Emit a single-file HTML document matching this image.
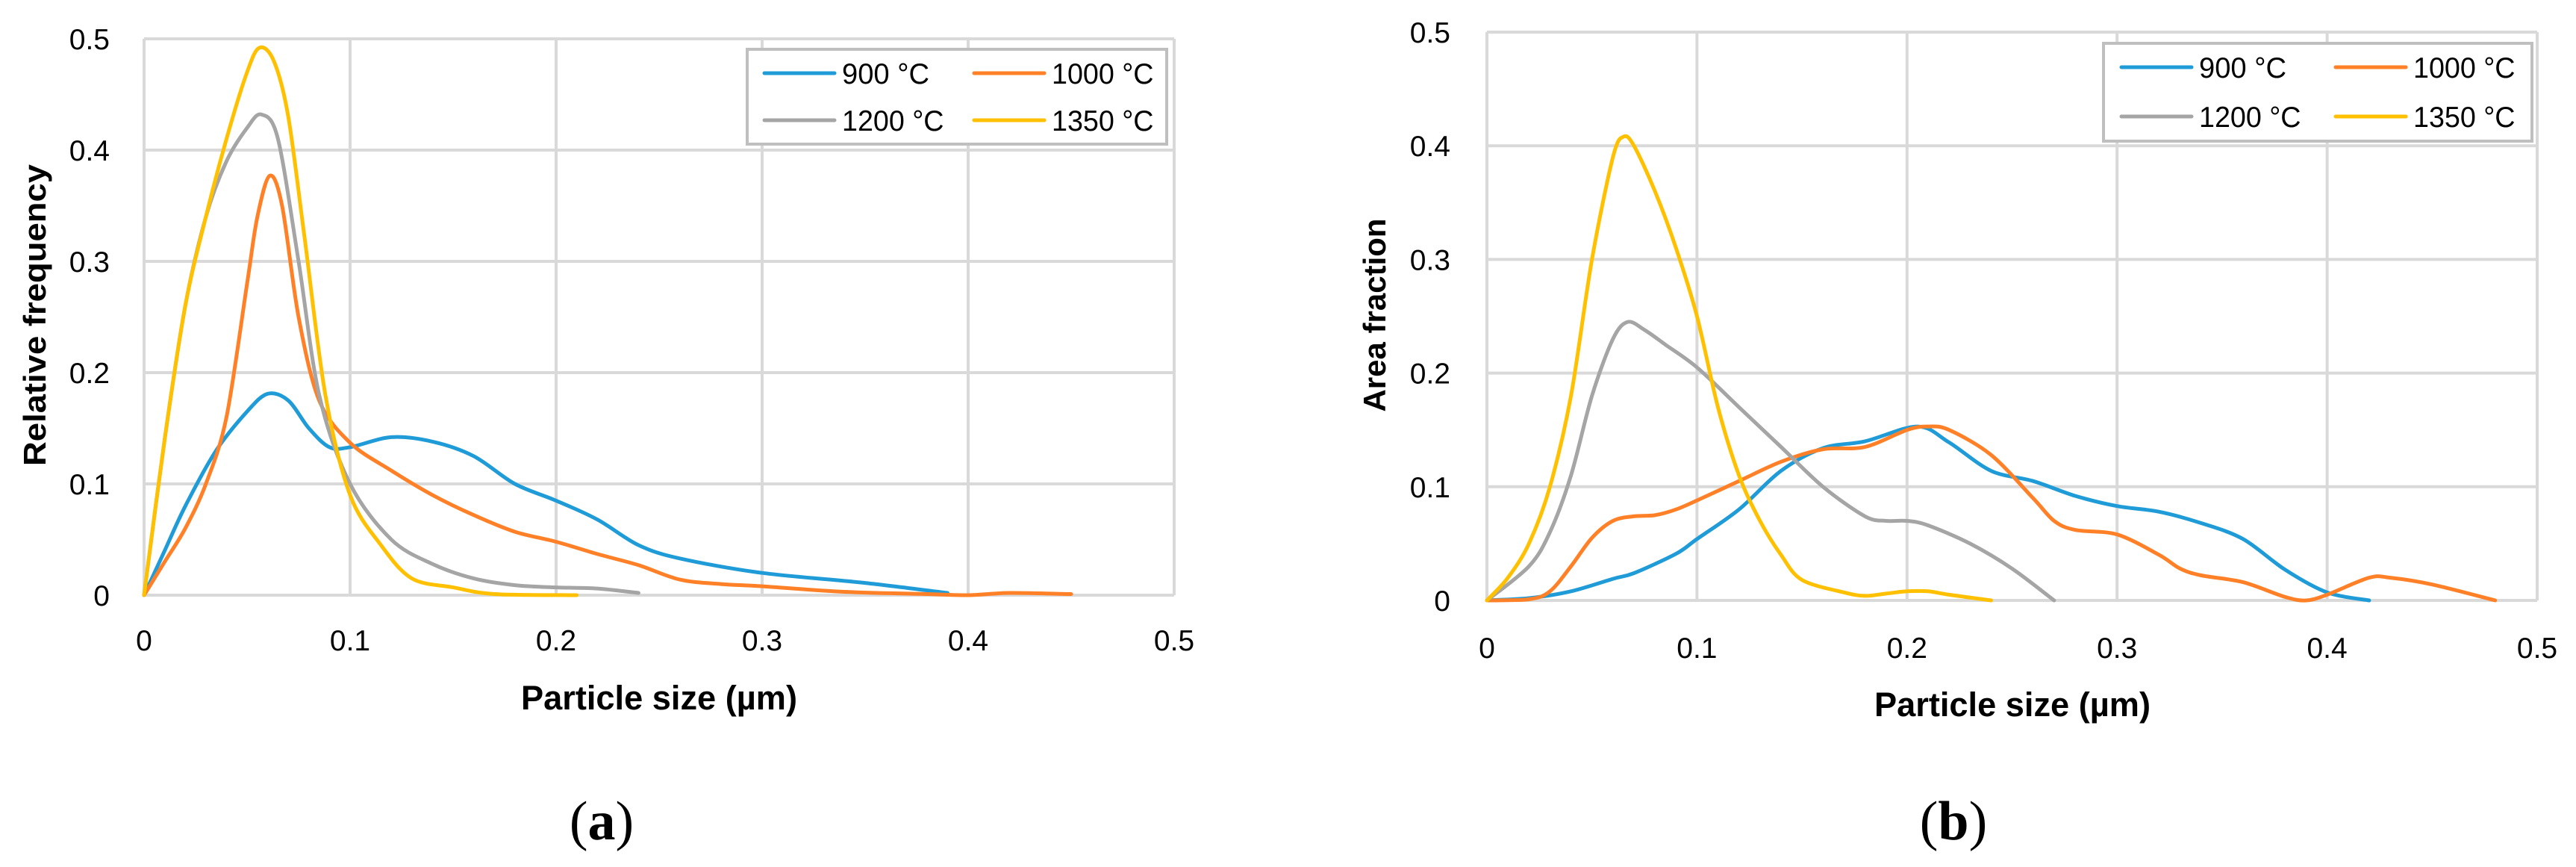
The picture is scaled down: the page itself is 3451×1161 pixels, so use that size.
<!DOCTYPE html>
<html><head><meta charset="utf-8"><style>
html,body{margin:0;padding:0;background:#fff;}
svg{display:block;}
text{font-family:"Liberation Sans",sans-serif;}
</style></head><body>
<svg id="fig" width="3451" height="1161" viewBox="0 0 3451 1161" xmlns="http://www.w3.org/2000/svg">
<rect width="3451" height="1161" fill="#fff"/>
<g id="chartA"></g>
<g id="chartB"></g>
<text x="883" y="950" text-anchor="middle" font-size="45" font-weight="bold" textLength="370" lengthAdjust="spacingAndGlyphs">Particle size (µm)</text>
<text x="2696" y="959" text-anchor="middle" font-size="45" font-weight="bold" textLength="370" lengthAdjust="spacingAndGlyphs">Particle size (µm)</text>
<text transform="translate(61,422) rotate(-90)" text-anchor="middle" font-size="42" font-weight="bold" textLength="404" lengthAdjust="spacingAndGlyphs">Relative frequency</text>
<text transform="translate(1856,422) rotate(-90)" text-anchor="middle" font-size="42" font-weight="bold">Area fraction</text>
<text x="806" y="1124" text-anchor="middle" font-size="74" style="font-family:'Liberation Serif',serif">(<tspan font-weight="bold">a</tspan>)</text>
<text x="2617" y="1124" text-anchor="middle" font-size="74" style="font-family:'Liberation Serif',serif">(<tspan font-weight="bold">b</tspan>)</text>
</svg>
<script>
const xTicks=[0,0.1,0.2,0.3,0.4,0.5];
const yTicks=[0,0.1,0.2,0.3,0.4,0.5];
const xTickLabels=["0","0.1","0.2","0.3","0.4","0.5"];
const yTickLabels=["0","0.1","0.2","0.3","0.4","0.5"];
const seriesNames=["900 °C","1000 °C","1200 °C","1350 °C"];
const seriesColors=["#1F9CD8","#FF8026","#A5A5A5","#FFC000"];
// Chart A
const a900x=[0,0.01,0.02,0.035,0.05,0.06,0.07,0.08,0.09,0.1,0.12,0.14,0.16,0.18,0.2,0.22,0.24,0.26,0.3,0.35,0.39];
const a900y=[0,0.04,0.08,0.13,0.165,0.181,0.175,0.15,0.133,0.133,0.142,0.138,0.125,0.1,0.085,0.068,0.045,0.033,0.02,0.011,0.002];
const a1000x=[0,0.01,0.02,0.03,0.04,0.05,0.055,0.061,0.067,0.075,0.085,0.1,0.12,0.14,0.16,0.18,0.2,0.22,0.24,0.26,0.28,0.3,0.34,0.38,0.4,0.42,0.45];
const a1000y=[0,0.03,0.06,0.1,0.16,0.28,0.34,0.377,0.35,0.25,0.175,0.137,0.112,0.09,0.072,0.057,0.048,0.037,0.027,0.014,0.01,0.008,0.003,0.001,0,0.002,0.001];
const a1200x=[0,0.01,0.02,0.03,0.04,0.05,0.057,0.065,0.075,0.085,0.1,0.12,0.14,0.16,0.18,0.2,0.22,0.24];
const a1200y=[0,0.14,0.26,0.34,0.39,0.42,0.432,0.41,0.3,0.18,0.1,0.05,0.028,0.015,0.009,0.007,0.006,0.002];
const a1350x=[0,0.01,0.02,0.03,0.04,0.05,0.056,0.063,0.07,0.078,0.088,0.1,0.115,0.13,0.15,0.17,0.21];
const a1350y=[0,0.14,0.26,0.34,0.41,0.47,0.492,0.48,0.43,0.32,0.18,0.09,0.045,0.015,0.007,0.001,0];
// Chart B
const b900x=[0,0.02,0.04,0.06,0.07,0.09,0.1,0.12,0.14,0.16,0.18,0.205,0.22,0.24,0.26,0.28,0.3,0.32,0.34,0.36,0.38,0.4,0.42];
const b900y=[0,0.002,0.008,0.019,0.024,0.041,0.054,0.08,0.114,0.134,0.14,0.153,0.139,0.114,0.105,0.092,0.083,0.078,0.068,0.054,0.027,0.007,0];
const b1000x=[0,0.02,0.03,0.04,0.05,0.06,0.07,0.08,0.09,0.1,0.12,0.14,0.16,0.18,0.2,0.21,0.22,0.24,0.26,0.27,0.28,0.3,0.32,0.33,0.34,0.36,0.38,0.39,0.4,0.42,0.43,0.45,0.48];
const b1000y=[0,0.001,0.008,0.03,0.055,0.07,0.074,0.075,0.08,0.088,0.105,0.122,0.133,0.135,0.15,0.153,0.15,0.128,0.09,0.07,0.062,0.058,0.04,0.028,0.022,0.016,0.003,0,0.005,0.02,0.02,0.014,0];
const b1200x=[0,0.02,0.03,0.04,0.05,0.06,0.067,0.075,0.085,0.1,0.12,0.14,0.16,0.18,0.19,0.2,0.21,0.23,0.25,0.27];
const b1200y=[0,0.03,0.06,0.11,0.18,0.23,0.245,0.238,0.225,0.205,0.17,0.135,0.1,0.074,0.07,0.07,0.066,0.05,0.028,0];
const b1350x=[0,0.01,0.02,0.03,0.04,0.05,0.06,0.065,0.07,0.08,0.09,0.1,0.11,0.12,0.13,0.14,0.15,0.17,0.18,0.19,0.2,0.21,0.22,0.24];
const b1350y=[0,0.02,0.05,0.1,0.18,0.3,0.39,0.408,0.4,0.36,0.31,0.25,0.17,0.11,0.07,0.04,0.018,0.007,0.004,0.006,0.008,0.008,0.005,0];

const NS="http://www.w3.org/2000/svg";
function mk(tag,attrs,parent){const e=document.createElementNS(NS,tag);for(const k in attrs)e.setAttribute(k,attrs[k]);parent.appendChild(e);return e;}
function spline(pts){
  let d="M"+pts[0][0].toFixed(1)+","+pts[0][1].toFixed(1);
  for(let i=0;i<pts.length-1;i++){
    const p0=pts[i-1]||pts[i],p1=pts[i],p2=pts[i+1],p3=pts[i+2]||p2;
    const t=0.16;
    const c1=[p1[0]+(p2[0]-p0[0])*t,p1[1]+(p2[1]-p0[1])*t];
    const c2=[p2[0]-(p3[0]-p1[0])*t,p2[1]-(p3[1]-p1[1])*t];
    d+=" C"+c1[0].toFixed(1)+","+c1[1].toFixed(1)+" "+c2[0].toFixed(1)+","+c2[1].toFixed(1)+" "+p2[0].toFixed(1)+","+p2[1].toFixed(1);
  }
  return d;
}
function drawChart(g,cfg,series,prefix){
  const sx=v=>cfg.x0+(v/0.5)*(cfg.x1-cfg.x0);
  const sy=v=>cfg.y0-(v/0.5)*(cfg.y0-cfg.y1);
  xTicks.forEach((t,i)=>{
    const l=mk("line",{x1:sx(t),x2:sx(t),y1:cfg.y1,y2:cfg.y0,stroke:"#d9d9d9","stroke-width":4},g);
    
    
    const tx=mk("text",{x:sx(t),y:cfg.xLabY,"text-anchor":"middle","font-size":39},g);
    tx.textContent=xTickLabels[i];
    
    
  });
  yTicks.forEach((t,i)=>{
    const l=mk("line",{x1:cfg.x0,x2:cfg.x1,y1:sy(t),y2:sy(t),stroke:"#d9d9d9","stroke-width":4},g);
    
    
    const tx=mk("text",{x:cfg.yLabX,y:sy(t)+14,"text-anchor":"end","font-size":39},g);
    tx.textContent=yTickLabels[i];
    
    
  });
  series.forEach((s,i)=>{
    const pts=s[0].map((x,j)=>[sx(x),sy(s[1][j])]);
    const p=mk("path",{d:spline(pts),fill:"none",stroke:seriesColors[i],"stroke-width":5,"stroke-linejoin":"round","stroke-linecap":"round"},g);
    
    
  });
  const L=cfg.leg;
  const box=mk("rect",{x:L.x,y:L.y,width:L.w,height:L.h,fill:"#fff",stroke:"#bfbfbf","stroke-width":4},g);
  
  
  seriesNames.forEach((n,i)=>{
    const col=i%2,row=Math.floor(i/2);
    const lx=L.cols[col],ly=L.rows[row];
    const ln=mk("line",{x1:lx,x2:lx+94,y1:ly,y2:ly,stroke:seriesColors[i],"stroke-width":5,"stroke-linecap":"round"},g);
    
    
    const tx=mk("text",{x:lx+104,y:ly+14,"font-size":39,textLength:(n.length*19.5),lengthAdjust:"spacingAndGlyphs"},g);
    tx.textContent=n;
    
    
  });
}
drawChart(document.getElementById("chartA"),
 {x0:193,x1:1573,y0:797,y1:52,xLabY:871,yLabX:147,
  leg:{x:1001,y:66,w:562,h:127,cols:[1024,1305],rows:[98,161]}},
 [[a900x,a900y],[a1000x,a1000y],[a1200x,a1200y],[a1350x,a1350y]],"a");
drawChart(document.getElementById("chartB"),
 {x0:1992,x1:3399,y0:804,y1:43,xLabY:881,yLabX:1943,
  leg:{x:2818,y:58,w:574,h:131,cols:[2842,3129],rows:[90,156]}},
 [[b900x,b900y],[b1000x,b1000y],[b1200x,b1200y],[b1350x,b1350y]],"b");
</script>
</body></html>
